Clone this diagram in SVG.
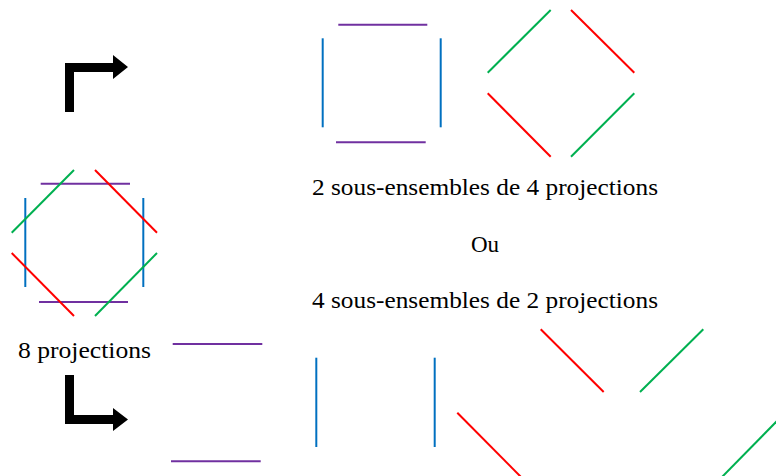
<svg xmlns="http://www.w3.org/2000/svg" width="776" height="476" viewBox="0 0 776 476">
<style>
line{stroke-width:2;stroke-linecap:butt}
.p{stroke:#7030A0}.b{stroke:#0070C0}.g{stroke:#00B050}.r{stroke:#FF0000}
text{font-family:"Liberation Serif","DejaVu Serif",serif;font-size:23px;fill:#000}
.arr{fill:#000}
</style>
<rect width="776" height="476" fill="#fff"/>
<g id="arrow-top"><path class="arr" d="M65,112 V63 H113 V55 L128,67 L113,79 V72 H74 V112 Z"/></g>
<g id="arrow-bottom"><path class="arr" d="M65,375 V424 H113 V431 L128,419.5 L113,408 V415 H74 V375 Z"/></g>
<g id="octagon">
<line class="p" x1="40.7" y1="183.7" x2="130" y2="183.7"/>
<line class="p" x1="39" y1="302" x2="128" y2="302"/>
<line class="b" x1="25.3" y1="198" x2="25.3" y2="287"/>
<line class="b" x1="143.3" y1="198" x2="143.3" y2="287"/>
<line class="g" x1="74" y1="170" x2="11.7" y2="232.7"/>
<line class="r" x1="95" y1="170" x2="157" y2="232.7"/>
<line class="r" x1="11.7" y1="253" x2="74" y2="316"/>
<line class="g" x1="95" y1="316" x2="157" y2="253"/>
</g>
<g id="square-top">
<line class="p" x1="338.3" y1="24.7" x2="427.3" y2="24.7"/>
<line class="p" x1="336" y1="142.3" x2="425.7" y2="142.3"/>
<line class="b" x1="322.7" y1="38.3" x2="322.7" y2="127.3"/>
<line class="b" x1="440.7" y1="38.3" x2="440.7" y2="127.3"/>
</g>
<g id="diamond-top">
<line class="g" x1="550.7" y1="10" x2="487.7" y2="72.7"/>
<line class="r" x1="571" y1="10" x2="634.3" y2="72.7"/>
<line class="r" x1="487.7" y1="93.3" x2="550.7" y2="156.7"/>
<line class="g" x1="571" y1="156.7" x2="634.3" y2="93.3"/>
</g>
<g id="pair-purple">
<line class="p" x1="172.7" y1="344" x2="262.3" y2="344"/>
<line class="p" x1="171" y1="461.3" x2="260.7" y2="461.3"/>
</g>
<g id="pair-blue">
<line class="b" x1="316.3" y1="357.7" x2="316.3" y2="447"/>
<line class="b" x1="434.7" y1="357.7" x2="434.7" y2="447"/>
</g>
<g id="pair-top-v">
<line class="r" x1="540.7" y1="329.3" x2="603.7" y2="392"/>
<line class="g" x1="640" y1="392" x2="703.3" y2="329.3"/>
</g>
<g id="pair-bottom">
<line class="r" x1="457.3" y1="412.7" x2="521" y2="477"/>
<line class="g" x1="722" y1="477" x2="778" y2="420"/>
</g>
<g id="labels">
<text x="18" y="358" textLength="133" lengthAdjust="spacingAndGlyphs">8 projections</text>
<text x="312" y="195" textLength="346" lengthAdjust="spacingAndGlyphs">2 sous-ensembles de 4 projections</text>
<text x="485" y="251.5" text-anchor="middle">Ou</text>
<text x="312" y="308" textLength="346" lengthAdjust="spacingAndGlyphs">4 sous-ensembles de 2 projections</text>
</g>
</svg>
